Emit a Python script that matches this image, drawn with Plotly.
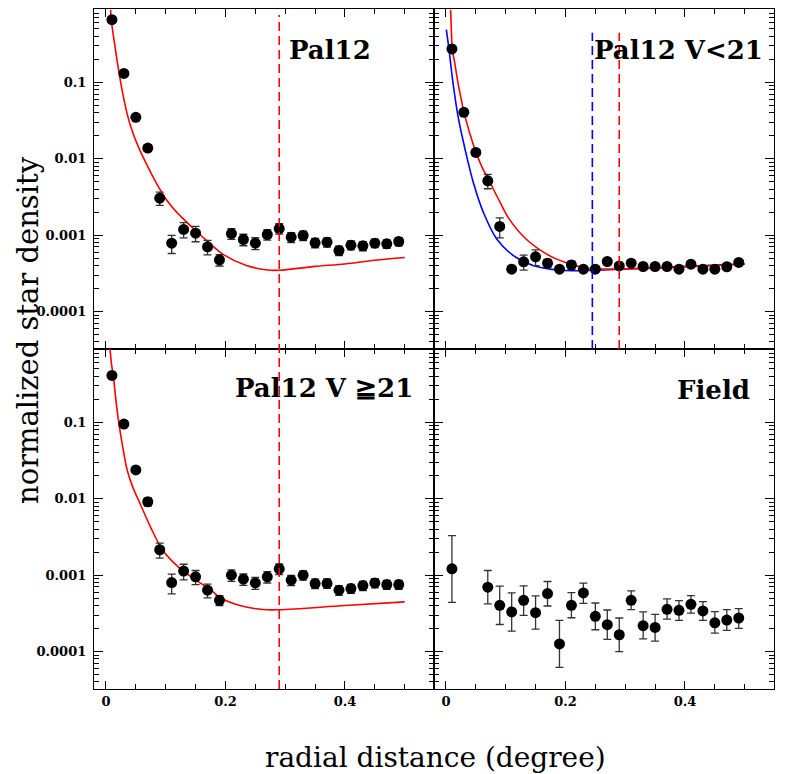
"""
Profils de densité radiale de Pal12 (4 panneaux)
"""

import plotly.graph_objects as go
from plotly.subplots import make_subplots

# rayons des points (degrés)
r = [0.01, 0.03, 0.05, 0.07, 0.09, 0.11, 0.13, 0.15, 0.17, 0.19, 0.21, 0.23, 0.25,
     0.27, 0.29, 0.31, 0.33, 0.35, 0.37, 0.39, 0.41, 0.43, 0.45, 0.47, 0.49]
r_field = [0.01, 0.07, 0.09, 0.11, 0.13, 0.15, 0.17, 0.19, 0.21, 0.23, 0.25, 0.27,
           0.29, 0.31, 0.33, 0.35, 0.37, 0.39, 0.41, 0.43, 0.45, 0.47, 0.49]

# Pal12 (tout)
pal12 = [0.66, 0.131, 0.0348, 0.0138, 0.00305, 0.000785, 0.00119, 0.00106, 0.000703,
         0.000475, 0.00105, 0.000877, 0.000785, 0.00102, 0.00122, 0.000942, 0.00099,
         0.000794, 0.00081, 0.00063, 0.00074, 0.000725, 0.000785, 0.00077, 0.000826]
pal12_err = [0.01, 0.003, 0.0015, 0.0013, 0.0006, 0.00021, 0.00027, 0.00024, 0.00015,
             0.00008, 0.00017, 0.00015, 0.00014, 0.00016, 0.00019, 0.00014, 0.00014,
             0.00011, 0.00011, 0.00009, 0.0001, 0.0001, 0.0001, 0.0001, 0.0001]

# Pal12 V<21
bright = [0.274, 0.0405, 0.0121, 0.00515, 0.0013, 0.000359, 0.000448, 0.00052, 0.00043,
          0.000359, 0.000408, 0.000359, 0.000359, 0.000452, 0.000396, 0.00043, 0.000389,
          0.000389, 0.000389, 0.000359, 0.000417, 0.000359, 0.000359, 0.000386, 0.000439]
bright_err = [0.01, 0.0029, 0.001, 0.0011, 0.00038, 0.00001, 0.0001, 0.00012, 0.00005,
              0.00002, 0.00005, 0.00002, 0.00002, 0.00004, 0.00003, 0.00004, 0.00003,
              0.00003, 0.00003, 0.00003, 0.00004, 0.00003, 0.00003, 0.00003, 0.00004]

# Pal12 V>=21
faint = [0.411, 0.095, 0.0238, 0.00914, 0.00215, 0.0008, 0.00113, 0.00095, 0.000635,
         0.000469, 0.001, 0.000886, 0.000792, 0.00095, 0.00121, 0.00086, 0.001,
         0.000776, 0.00078, 0.000635, 0.000668, 0.00073, 0.000792, 0.000754, 0.000754]
faint_err = [0.01, 0.003, 0.0015, 0.0011, 0.00048, 0.00023, 0.00026, 0.0002, 0.00013,
             0.00007, 0.00017, 0.00015, 0.00014, 0.00016, 0.00019, 0.00013, 0.00014,
             0.00011, 0.00011, 0.00009, 0.00009, 0.0001, 0.00011, 0.0001, 0.0001]

# champ de comparaison (bornes basse / haute des barres)
field = [0.00121, 0.000695, 0.000403, 0.00033, 0.000469, 0.000323, 0.000574, 0.000126,
         0.000403, 0.000586, 0.000289, 0.000225, 0.000166, 0.000469, 0.000218, 0.000207,
         0.000357, 0.000346, 0.000415, 0.00034, 0.000238, 0.000258, 0.000275]
field_hi = [0.0033, 0.00115, 0.000717, 0.000586, 0.000724, 0.000535, 0.000826, 0.000256,
            0.000592, 0.000785, 0.000432, 0.00035, 0.000275, 0.000622, 0.00033, 0.000307,
            0.000489, 0.000465, 0.00054, 0.000451, 0.000333, 0.000353, 0.000364]
field_lo = [0.000441, 0.00042, 0.000226, 0.000185, 0.000298, 0.000197, 0.000395, 0.0000622,
            0.000277, 0.000428, 0.000193, 0.000144, 0.0001, 0.000353, 0.000147, 0.000137,
            0.000266, 0.000256, 0.000319, 0.000256, 0.000174, 0.000189, 0.000201]

# modèles (courbes)
fit1_r = [0.0078, 0.0089, 0.015, 0.0218, 0.0285, 0.0357, 0.045, 0.0552, 0.07, 0.085,
          0.1, 0.115, 0.13, 0.15, 0.17, 0.196, 0.235, 0.27, 0.29, 0.35, 0.4, 0.45, 0.5]
fit1 = [0.89, 0.66, 0.30, 0.135, 0.069, 0.038, 0.0219, 0.0138, 0.0079, 0.0047, 0.003,
        0.00214, 0.00162, 0.00115, 0.00083, 0.00056, 0.0004, 0.00035, 0.000347,
        0.00039, 0.00042, 0.00047, 0.00051]

fit2_r = [0.0078, 0.009, 0.0106, 0.015, 0.02, 0.025, 0.03, 0.04, 0.05, 0.06, 0.072, 0.09,
          0.106, 0.134, 0.173, 0.2, 0.235, 0.29, 0.35, 0.42, 0.5]
fit2 = [0.89, 0.5, 0.275, 0.174, 0.1, 0.063, 0.041, 0.0214, 0.0123, 0.0079, 0.0052,
        0.00275, 0.00162, 0.00089, 0.00054, 0.00044, 0.00037, 0.00036, 0.00037, 0.00039,
        0.00042]

fit2b_r = [0.0006, 0.005, 0.0117, 0.0201, 0.0318, 0.0458, 0.0625, 0.085, 0.113, 0.146,
           0.19, 0.246, 0.3, 0.4, 0.5]
fit2b = [0.49, 0.275, 0.1, 0.0363, 0.0135, 0.0049, 0.002, 0.00089, 0.00054, 0.0004,
         0.000347, 0.000347, 0.00036, 0.00039, 0.00042]

fit3_r = [0.0067, 0.0095, 0.0123, 0.0165, 0.0218, 0.028, 0.0357, 0.045, 0.0553, 0.075,
          0.0943, 0.1125, 0.1305, 0.1752, 0.191, 0.224, 0.263, 0.29, 0.4, 0.5]
fit3 = [0.93, 0.56, 0.41, 0.2, 0.095, 0.048, 0.0234, 0.0141, 0.0093, 0.0042, 0.00215,
        0.00148, 0.00111, 0.00064, 0.00051, 0.0004, 0.000355, 0.000353, 0.0004, 0.000447]

r_tidal = 0.29
r_tidal_bright = 0.245

panel_labels = ["Pal12", "Pal12 V<21", "Pal12 V \u226721", "Field"]
ytick_vals = [0.1, 0.01, 0.001, 0.0001]
ytick_text = ["0.1", "0.01", "0.001", "0.0001"]

fig = make_subplots(rows=2, cols=2, shared_xaxes=True, shared_yaxes=True,
                    horizontal_spacing=0, vertical_spacing=0)

err_style = dict(type='data', color='#333', thickness=1.3, width=4)
mk = dict(color='black', size=11)


def add_points(x, y, err, row, col):
    fig.add_trace(go.Scatter(x=x, y=y, mode='markers', marker=mk,
                             error_y=dict(array=err, **err_style)),
                  row=row, col=col)


def add_fit(x, y, color, row, col):
    fig.add_trace(go.Scatter(x=x, y=y, mode='lines',
                             line=dict(color=color, width=1.6, shape='spline')),
                  row=row, col=col)


add_fit(fit1_r, fit1, 'red', 1, 1)
add_points(r, pal12, pal12_err, 1, 1)

add_fit(fit2b_r, fit2b, 'blue', 1, 2)
add_fit(fit2_r, fit2, 'red', 1, 2)
add_points(r, bright, bright_err, 1, 2)

add_fit(fit3_r, fit3, 'red', 2, 1)
add_points(r, faint, faint_err, 2, 1)

fig.add_trace(go.Scatter(
    x=r_field, y=field, mode='markers', marker=mk,
    error_y=dict(symmetric=False,
                 array=[h - v for h, v in zip(field_hi, field)],
                 arrayminus=[v - l for v, l in zip(field, field_lo)],
                 **err_style)),
    row=2, col=2)

# rayons de marée
dash = dict(width=1.6, dash='9px,5px')
fig.add_shape(type='line', xref='x', yref='paper', x0=r_tidal, x1=r_tidal,
              y0=0, y1=0.991, line=dict(color='red', **dash))
fig.add_shape(type='line', xref='x2', yref='paper', x0=r_tidal_bright, x1=r_tidal_bright,
              y0=0.5, y1=0.965, line=dict(color='blue', **dash))
fig.add_shape(type='line', xref='x2', yref='paper', x0=r_tidal, x1=r_tidal,
              y0=0.5, y1=0.965, line=dict(color='red', **dash))

label_font = dict(family='DejaVu Serif', size=26, color='black', weight='bold')
label_pos = [(0.284, 0.94), (0.732, 0.94), (0.204, 0.443), (0.854, 0.44)]
for txt, (px_, py_) in zip(panel_labels, label_pos):
    fig.add_annotation(text=txt, x=px_, y=py_, xref='paper', yref='paper',
                       xanchor='left', yanchor='middle', showarrow=False, font=label_font)

fig.add_annotation(text='radial distance (degree)', x=0.5015, y=-0.1, xref='paper',
                   yref='paper', xanchor='center', yanchor='middle', showarrow=False,
                   font=dict(family='DejaVu Serif', size=28, color='black'))
fig.add_annotation(text='normalized star density', x=-0.097, y=0.528, xref='paper',
                   yref='paper', xanchor='center', yanchor='middle', showarrow=False,
                   textangle=-90, borderpad=0,
                   font=dict(family='DejaVu Serif', size=29, color='black'))

tick_font = dict(family='DejaVu Serif', size=13, color='black', weight='bold')
fig.update_xaxes(range=[-0.02, 0.549], dtick=0.2, tick0=0, showline=True, linecolor='black',
                 linewidth=1.3, mirror='allticks', ticks='inside', ticklen=8, tickwidth=1.2,
                 tickcolor='black', showgrid=False, zeroline=False, tickfont=tick_font,
                 minor=dict(dtick=0.05, ticks='inside', ticklen=5, tickwidth=1.2,
                            tickcolor='black', showgrid=False))
fig.update_yaxes(type='log', range=[-4.49, -0.04], tickvals=ytick_vals, ticktext=ytick_text,
                 showline=True, linecolor='black', linewidth=1.3, mirror='allticks',
                 ticks='inside', ticklen=9, tickwidth=1.2, tickcolor='black',
                 showgrid=False, zeroline=False, tickfont=tick_font, ticklabelstandoff=4,
                 minor=dict(dtick='D1', ticks='inside', ticklen=5, tickwidth=1.2,
                            tickcolor='black', showgrid=False))

# le body html décale la figure de 8 px : marges compensées
fig.update_layout(width=789, height=774, showlegend=False,
                  plot_bgcolor='white', paper_bgcolor='white',
                  margin=dict(l=86, r=23, t=1, b=93))

fig.write_html("out.html")
